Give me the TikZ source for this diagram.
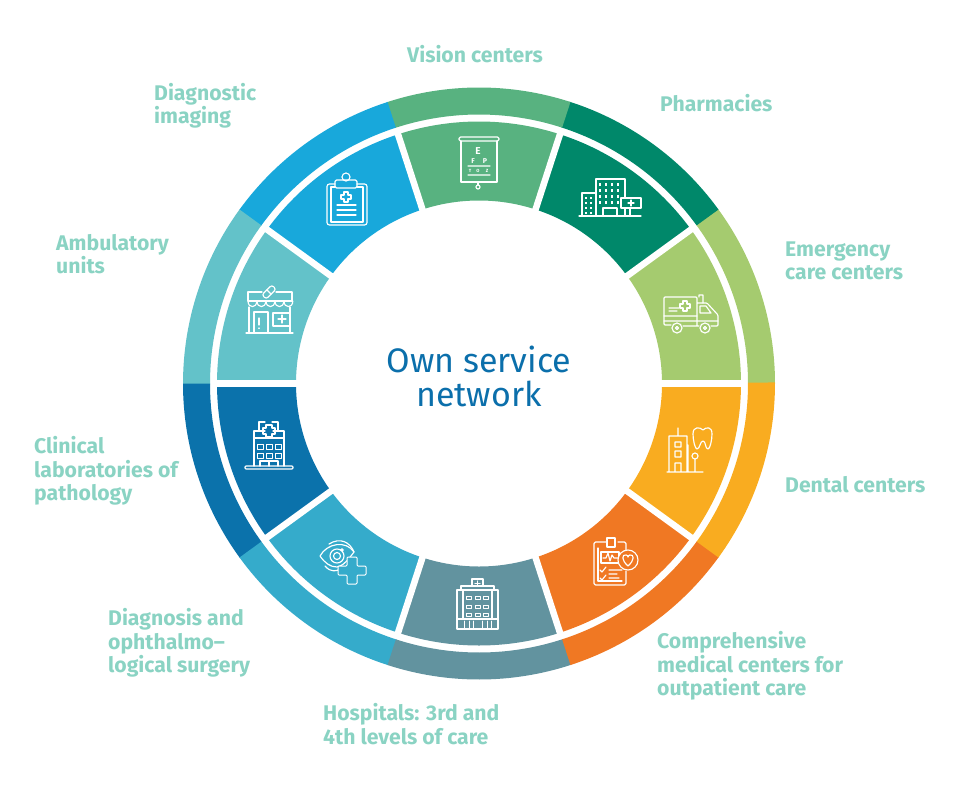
\documentclass[tikz,border=0pt]{standalone}
\usepackage{fontspec}
\setmainfont{Fira Sans}
\usepackage{xcolor}
\definecolor{labelteal}{HTML}{8AD3C3}
\definecolor{hubblue}{HTML}{0B6FAB}
\definecolor{emergency}{HTML}{A5CB6F}
\definecolor{pharmacy}{HTML}{00886A}
\definecolor{vision}{HTML}{58B280}
\definecolor{imaging}{HTML}{18A8DB}
\definecolor{ambulatory}{HTML}{63C2C9}
\definecolor{clinical}{HTML}{0B72AB}
\definecolor{diagnosis}{HTML}{35ABCB}
\definecolor{hospital}{HTML}{62939F}
\definecolor{outpatient}{HTML}{F07823}
\definecolor{dental}{HTML}{F9AC20}
\usetikzlibrary{calc}

\begin{document}
\begin{tikzpicture}[
  x=1pt, y=1pt,
  font=\fontsize{19}{23.5}\selectfont,
  lab/.style={text=labelteal, font=\fontsize{21.2}{23.5}\selectfont\bfseries, align=left, anchor=west,
              inner sep=0pt},
  icon/.style={draw=white, line width=1.15pt, line join=round, line cap=round},
  chartletter/.style={text=white, inner sep=0pt, font=\bfseries}
]
  \useasboundingbox (0,-790) rectangle (980,0);
  \coordinate (hub) at (479,-383.5);

  % ring and wedges
  \foreach \a/\col in {0/emergency, 36/pharmacy, 72/vision, 108/imaging, 144/ambulatory,
                       180/clinical, 216/diagnosis, 252/hospital, 288/outpatient, 324/dental} {
    \fill[\col] ([shift={(\a:296)}]hub) arc[start angle=\a, delta angle=36.2, radius=296pt]
       -- ([shift={(\a+36.2:269)}]hub) arc[start angle=\a+36.2, delta angle=-36.2, radius=269pt] -- cycle;
    \fill[\col] ([shift={(\a:262)}]hub) arc[start angle=\a, delta angle=36, radius=262pt]
       -- ([shift={(\a+36:183)}]hub) arc[start angle=\a+36, delta angle=-36, radius=183pt] -- cycle;
  }
  \foreach \a in {0,36,...,324}
    \draw[white, line width=6.5pt] ([shift={(\a:178)}]hub) -- ([shift={(\a:264)}]hub);

  \node[text=hubblue, align=center, inner sep=0pt, font=\fontsize{34}{33.5}\selectfont] (hubtext) at (479,-376.5)
       {Own service\\network};

  % labels
  \node[lab] (visionlab)    at (407,-54)  {Vision centers};
  \node[lab] (pharmacylab)  at (660,-103) {Pharmacies};
  \node[lab] (imaginglab)   at (154,-106) {Diagnostic\\imaging};
  \node[lab] (ambulatorylab) at (56,-254) {Ambulatory\\units};
  \node[lab] (emergencylab) at (785,-261) {Emergency\\care centers};
  \node[lab] (dentallab)    at (785,-485) {Dental centers};
  \node[lab] (clinicallab)  at (34,-471)  {Clinical\\laboratories of\\pathology};
  \node[lab] (diagnosislab) at (108,-643) {Diagnosis and\\ophthalmo--\\logical surgery};
  \node[lab] (hospitallab)  at (323,-724) {Hospitals: 3rd and\\4th levels of care};
  \node[lab] (outpatientlab) at (657,-666) {Comprehensive\\medical centers for\\outpatient care};

  \begin{scope}[yscale=-1]
    % eye chart
    \draw[icon] (461,141) -- (461,182) -- (497,182) -- (497,141) (478,182) -- (478,185);
    \draw[icon, rounded corners=1.5pt] (459,137) rectangle (499,141);
    \draw[icon] (478,187) circle (2) (468,166) -- (490,166) (468,175) -- (490,175);
    \node[chartletter, font=\fontsize{10}{10}\selectfont\bfseries] (chartE) at (478,151) {E};
    \node[chartletter, font=\fontsize{7}{7}\selectfont\bfseries] (chartF) at (473,161) {F};
    \node[chartletter, font=\fontsize{7}{7}\selectfont\bfseries] (chartP) at (485,161) {P};
    \node[chartletter, font=\fontsize{4.5}{5}\selectfont\bfseries] (chartT) at (470,171) {T};
    \node[chartletter, font=\fontsize{4.5}{5}\selectfont\bfseries] (chartO) at (478,171) {O};
    \node[chartletter, font=\fontsize{4.5}{5}\selectfont\bfseries] (chartZ) at (487,171) {Z};

    % pharmacy buildings
    \draw[icon] (579,216) -- (641,216) (582,216) -- (582,193) -- (596,193)
                (596,216) -- (596,179) -- (625,179) -- (625,198)
                (603,216) -- (603,208) -- (617,208) -- (617,216) (625,208) -- (625,216) (630,208) -- (630,216);
    \draw[icon] (621,198) rectangle (641,208) (631,200) -- (631,206) (628,203) -- (634,203);
    \foreach \x in {600,606,612,618} \foreach \y in {184,190,196,202}
      \fill[white] (\x-1,\y-1.5) rectangle (\x+1,\y+1.5);
    \foreach \x in {586,591} \foreach \y in {198,203,208,213}
      \fill[white] (\x-1,\y-1.2) rectangle (\x+1,\y+1.2);

    % ambulance
    \draw[icon, rounded corners=1pt] (671,325) -- (664,325) -- (664,297) -- (697,297) -- (697,325)
          (697,303) -- (707,303) -- (718,315) -- (718,326) -- (711,326) (699,326) -- (683,326);
    \draw[icon] (677,328) circle (5) (677,328) circle (1.5) (705,328) circle (5) (705,328) circle (1.5)
                (664,316) -- (697,316) (664,321) -- (718,321) (700,306) -- (706,306) -- (711,313) -- (700,313) -- cycle
                (669,308) -- (679,308) (669,311) -- (677,311)
                (699,297) -- (699,295) -- (703,295) -- (703,303);
    \draw[icon] (683,301) -- (687,301) -- (687,304) -- (690,304) -- (690,308) -- (687,308) -- (687,311) -- (683,311) -- (683,308) -- (680,308) -- (680,304) -- (683,304) -- cycle;

    % tooth and clinic
    \draw[icon] (667,472) -- (703,472) (669,472) -- (669,436) -- (687,436) -- (687,472) (678,436) -- (678,428)
                (675,442) rectangle (681,447) (675,451) rectangle (681,457) (675,472) -- (675,463) -- (681,463) -- (681,472)
                (695,456) circle (3) (695,459) -- (695,472) (688,445) -- (688,472);
    \draw[icon] (693,434) .. controls (693,426) and (700,427) .. (703,430) .. controls (706,427) and (712,426) .. (712,434)
                .. controls (712,440) and (710,449) .. (708,449) .. controls (705,449) and (706,441) .. (703,441)
                .. controls (700,441) and (700,449) .. (697,449) .. controls (695,449) and (693,440) .. (693,434);

    % outpatient clipboard with heart
    \draw[icon, rounded corners=1.5pt] (618,542) -- (626,542) -- (626,550) (626,571) -- (626,585) -- (594,585) -- (594,542) -- (607,542);
    \draw[icon] (607,547) -- (607,538) -- (615,538) -- (615,547) -- cycle (598,548) -- (598,581) -- (622,581) (601,552) rectangle (619,563);
    \draw[icon] (603,558) -- (606,558) -- (608,553) -- (610,561) -- (612,555) -- (614,558) -- (618,558);
    \draw[icon] (600,570) -- (602,572) -- (606,567) (600,578) -- (602,580) -- (606,575)
                (609,570) -- (622,570) (609,574) -- (617,574) (609,578) -- (619,578);
    \draw[icon, fill=outpatient] (628,560) circle (10);
    \draw[icon] (628,566) .. controls (621,560) and (622,554) .. (626,555) .. controls (627,555) and (628,556) .. (628,557)
                .. controls (628,556) and (629,555) .. (630,555) .. controls (634,554) and (635,560) .. (628,566);

    % hospital
    \draw[icon] (457,590) rectangle (498,629) (461,590) -- (461,586) -- (494,586) -- (494,590)
                (472,586) -- (472,579) -- (483,579) -- (483,586) (463,590) -- (463,618) (492,590) -- (492,618) (457,619) -- (498,619);
    \draw[icon] (477.5,581) -- (477.5,586) (475,583.5) -- (480,583.5);
    \foreach \x in {469,477.5,486} \foreach \y in {598,607,615}
      \draw[icon, line width=0.9pt] (\x-2.5,\y-1.5) rectangle (\x+2.5,\y+1.5);
    \foreach \x in {464,469,473,482,487,491} \draw[icon, line width=0.9pt] (\x,621) -- (\x,628);

    % eye with cross
    \draw[icon] (320,556) .. controls (327,543) and (346,540) .. (354,552) .. controls (348,560) and (343,566) .. (337,567)
                .. controls (330,567) and (325,563) .. (320,556);
    \draw[icon] (337,556) circle (7) (337,556) circle (3.5) (342,550) circle (1.2);
    \draw[icon] (325,566) .. controls (331,573) and (337,571) .. (340,569) (329,544) .. controls (340,537) and (350,542) .. (354,552);
    \draw[icon, fill=diagnosis, line width=1pt, rounded corners=1pt] (347,557) -- (357,557) -- (357,566) -- (366,566) -- (366,575)
          -- (357,575) -- (357,584) -- (347,584) -- (347,575) -- (338,575) -- (338,566) -- (347,566) -- cycle;

    % clinical laboratory
    \draw[icon, rounded corners=1pt] (245,466) rectangle (293,469);
    \draw[icon] (254,466) -- (254,431) -- (265,431) (273,431) -- (284,431) -- (284,466) (254,438) -- (284,438)
                (259,431) -- (259,422) -- (265,422) (272,422) -- (278,422) -- (278,431) (260,466) -- (260,461) -- (278,461) -- (278,466) (269,461) -- (269,466);
    \draw[icon] (266,425) -- (272,425) -- (272,428) -- (275,428) -- (275,434) -- (272,434) -- (272,437) -- (266,437) -- (266,434) -- (263,434) -- (263,428) -- (266,428) -- cycle;
    \foreach \x in {260,269,278} \foreach \y in {447,456}
      \draw[icon, line width=0.9pt] (\x-3,\y-2.5) rectangle (\x+3,\y+2.5);

    % shop
    \draw[icon] (246,333) -- (293,333) (249,333) -- (249,307) (290,333) -- (290,307) (254,333) -- (254,312) -- (268,312) -- (268,333)
                (273,313) rectangle (290,326) (282,315) -- (282,323) (278,319) -- (286,319) (259,318) -- (259,325) (259,328) -- (259,328.5);
    \draw[icon] (248,301) -- (248,292) -- (262,292) (276,292) -- (292,292) -- (292,301) -- (248,301);
    \foreach \x in {248,257,266,275,284}
      \draw[icon] (\x,301) .. controls (\x,308.5) and (\x+8.8,308.5) .. (\x+8.8,301);
    \draw[icon, rotate around={-45:(269,292)}, rounded corners=2.5pt] (262,289) rectangle (276,295);
    \draw[icon, rotate around={-45:(269,292)}] (269,289) -- (269,295);

    % clipboard
    \draw[icon, rounded corners=2.5pt] (335,184) -- (327,184) -- (327,225) -- (367,225) -- (367,184) -- (357,184);
    \draw[icon] (335,187) -- (331,187) -- (331,222) -- (363,222) -- (363,187) -- (357,187);
    \draw[icon, rounded corners=1.5pt] (335,188) rectangle (357,180);
    \draw[icon] (346,177) circle (4);
    \draw[icon] (344,192) -- (348,192) -- (348,195) -- (351,195) -- (351,199) -- (348,199) -- (348,202) -- (344,202) -- (344,199) -- (341,199) -- (341,195) -- (344,195) -- cycle;
    \draw[icon] (337,205) -- (356,205) (337,210) -- (356,210) (337,215) -- (356,215);
  \end{scope}
\end{tikzpicture}
\end{document}
